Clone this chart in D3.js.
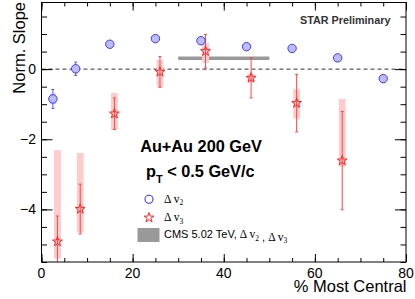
<!DOCTYPE html>
<html>
<head>
<meta charset="utf-8">
<script src="https://cdn.jsdelivr.net/npm/d3@7"></script>
<style>
body { margin: 0; background: #fff; }
text { font-family: "Liberation Sans", Arial, sans-serif; }
</style>
</head>
<body>
<script>
// centrality bins (% most central)
var cent2 = [2.5, 7.5, 15, 25, 35, 45, 55, 65, 75];
var v2 = [-0.85, 0.01, 0.71, 0.87, 0.81, 0.64, 0.59, 0.32, -0.27];
var v2Err = [0.27, 0.19, 0.05, 0.05, 0.05, 0.05, 0.05, 0.05, 0.1];
var v2Sys = [0.15, 0.05, 0.03, 0.03, 0.03, 0.03, 0.03, 0.03, 0.05];

var cent3 = [3.5, 8.5, 16, 26, 36, 46, 56, 66];
var v3 = [-4.92, -3.99, -1.27, -0.08, 0.51, -0.25, -0.97, -2.61];
var v3Err = [0.73, 0.71, 0.45, 0.44, 0.48, 0.57, 0.82, 1.40];
var v3SysLo = [-5.41, -4.66, -1.73, -0.51, 0.18, -0.38, -1.41, -2.78];
var v3SysHi = [-2.31, -2.39, -0.68, 0.26, 0.75, -0.13, -0.57, -0.85];

// CMS 5.02 TeV band
var cmsRange = [30, 50];
var cmsBand = [0.26, 0.36];

var xTicks = [0, 20, 40, 60, 80];
var yTicks = [-4, -2, 0];

var width = 415, height = 299;
var padL = 41.5, padR = 406, padT = 2.5, padB = 262;

var x = d3.scaleLinear().domain([0, 80]).range([padL, padR]);
var y = d3.scaleLinear().domain([-5.5, 1.9]).range([padB, padT]);

var svg = d3.select("body").append("svg")
    .attr("width", width)
    .attr("height", height);

svg.append("defs").append("clipPath").attr("id", "plotclip")
  .append("rect")
    .attr("x", padL).attr("y", padT)
    .attr("width", padR - padL).attr("height", padB - padT);

var plot = svg.append("g").attr("clip-path", "url(#plotclip)");

// zero line
plot.append("line")
    .attr("x1", padL).attr("x2", padR)
    .attr("y1", y(0)).attr("y2", y(0))
    .attr("stroke", "#333")
    .attr("stroke-dasharray", "4,3");

// CMS band
plot.append("rect")
    .attr("x", x(cmsRange[0]))
    .attr("width", x(cmsRange[1]) - x(cmsRange[0]))
    .attr("y", y(cmsBand[1]))
    .attr("height", y(cmsBand[0]) - y(cmsBand[1]))
    .attr("fill", "#999");

// v3 systematic boxes
plot.selectAll(".sys3")
    .data(cent3)
  .enter().append("rect")
    .attr("class", "sys3")
    .attr("x", function(d) { return x(d - 0.75); })
    .attr("width", function(d) { return x(d + 0.75) - x(d - 0.75); })
    .attr("y", function(d, i) { return y(v3SysHi[i]); })
    .attr("height", function(d, i) { return y(v3SysLo[i]) - y(v3SysHi[i]); })
    .attr("fill", "#ffcccc");

// v2 systematic boxes
plot.selectAll(".sys2")
    .data(cent2)
  .enter().append("rect")
    .attr("class", "sys2")
    .attr("x", function(d) { return x(d - 0.7); })
    .attr("width", function(d) { return x(d + 0.7) - x(d - 0.7); })
    .attr("y", function(d, i) { return y(v2[i] + v2Sys[i]); })
    .attr("height", function(d, i) { return y(v2[i] - v2Sys[i]) - y(v2[i] + v2Sys[i]); })
    .attr("fill", "#ccccff");

function errBars(cls, xs, vals, errs, color) {
  var g = plot.selectAll("." + cls)
      .data(xs)
    .enter().append("g")
      .attr("class", cls)
      .attr("stroke", color)
      .attr("stroke-width", 1);
  g.append("line")
      .attr("x1", function(d) { return x(d); })
      .attr("x2", function(d) { return x(d); })
      .attr("y1", function(d, i) { return y(vals[i] + errs[i]); })
      .attr("y2", function(d, i) { return y(vals[i] - errs[i]); });
  [1, -1].forEach(function(s) {
    g.append("line")
        .attr("x1", function(d) { return x(d) - 1.5; })
        .attr("x2", function(d) { return x(d) + 1.5; })
        .attr("y1", function(d, i) { return y(vals[i] + s * errs[i]); })
        .attr("y2", function(d, i) { return y(vals[i] + s * errs[i]); });
  });
}

errBars("err2", cent2, v2, v2Err, "#5555ff");
errBars("err3", cent3, v3, v3Err, "#ff4444");

var star = d3.symbol().type(d3.symbolStar).size(30);

plot.selectAll(".pt2")
    .data(cent2)
  .enter().append("circle")
    .attr("class", "pt2")
    .attr("cx", function(d) { return x(d); })
    .attr("cy", function(d, i) { return y(v2[i]); })
    .attr("r", 4.2)
    .attr("fill", "#bcbcff")
    .attr("stroke", "#3a3aff")
    .attr("stroke-width", 1);

plot.selectAll(".pt3")
    .data(cent3)
  .enter().append("path")
    .attr("class", "pt3")
    .attr("d", star)
    .attr("transform", function(d, i) { return "translate(" + x(d) + "," + y(v3[i]) + ")"; })
    .attr("fill", "none")
    .attr("stroke", "#ff2222")
    .attr("stroke-width", 1);

// frame and ticks
svg.append("rect")
    .attr("x", padL).attr("y", padT)
    .attr("width", padR - padL).attr("height", padB - padT)
    .attr("fill", "none")
    .attr("stroke", "#000")
    .attr("stroke-width", 1);

var xMinor = d3.range(0, 81, 5);
var yMinor = d3.range(-5.5, 1.91, 0.5);

function tickAxis(axis, pos, values, size) {
  svg.append("g")
      .attr("transform", pos)
      .call(axis.tickValues(values).tickSize(size).tickFormat(""))
      .call(function(g) { g.select(".domain").remove(); })
      .selectAll("line").attr("stroke", "#000");
}

tickAxis(d3.axisBottom(x), "translate(0," + padB + ")", xMinor, -4);
tickAxis(d3.axisBottom(x), "translate(0," + padB + ")", xTicks, -8);
tickAxis(d3.axisTop(x), "translate(0," + padT + ")", xMinor, -4);
tickAxis(d3.axisTop(x), "translate(0," + padT + ")", xTicks, -8);
tickAxis(d3.axisLeft(y), "translate(" + padL + ",0)", yMinor, -5.5);
tickAxis(d3.axisLeft(y), "translate(" + padL + ",0)", yTicks, -11);
tickAxis(d3.axisRight(y), "translate(" + padR + ",0)", yMinor, -5.5);
tickAxis(d3.axisRight(y), "translate(" + padR + ",0)", yTicks, -11);

// tick labels
svg.selectAll(".xlab")
    .data(xTicks)
  .enter().append("text")
    .attr("class", "xlab")
    .attr("x", function(d) { return x(d); })
    .attr("y", 277.5)
    .attr("text-anchor", "middle")
    .attr("font-size", 14)
    .text(function(d) { return d; });

svg.selectAll(".ylab")
    .data(yTicks)
  .enter().append("text")
    .attr("class", "ylab")
    .attr("x", 36)
    .attr("y", function(d) { return y(d) + 5; })
    .attr("text-anchor", "end")
    .attr("font-size", 14)
    .text(function(d) { return d < 0 ? "\u2212" + (-d) : d; });

// axis titles
svg.append("text")
    .attr("x", 406.5)
    .attr("y", 291.5)
    .attr("text-anchor", "end")
    .attr("font-size", 16.5)
    .text("% Most Central");

svg.append("text")
    .attr("transform", "translate(25,2) rotate(-90)")
    .attr("text-anchor", "end")
    .attr("font-size", 16.5)
    .text("Norm. Slope");

svg.append("text")
    .attr("x", 300)
    .attr("y", 24.3)
    .attr("font-size", 10.8)
    .attr("font-weight", "bold")
    .attr("fill", "#333")
    .text("STAR Preliminary");

svg.append("text")
    .attr("x", 201)
    .attr("y", 151.5)
    .attr("text-anchor", "middle")
    .attr("font-size", 16.3)
    .attr("font-weight", "bold")
    .text("Au+Au 200 GeV");

var pt = svg.append("text")
    .attr("x", 146)
    .attr("y", 177)
    .attr("font-size", 16.3)
    .attr("font-weight", "bold");
pt.append("tspan").text("p");
pt.append("tspan").attr("font-size", 11).attr("dy", 6).text("T");
pt.append("tspan").attr("dy", -6).text(" < 0.5 GeV/c");

// legend
var leg = svg.append("g");
leg.append("circle")
    .attr("cx", 149).attr("cy", 199.3).attr("r", 4)
    .attr("fill", "none").attr("stroke", "#3a3aff").attr("stroke-width", 1.1);
leg.append("path")
    .attr("d", star)
    .attr("transform", "translate(149,217.7)")
    .attr("fill", "none").attr("stroke", "#ff2222");
leg.append("rect")
    .attr("x", 137.5).attr("y", 228)
    .attr("width", 22).attr("height", 14)
    .attr("fill", "#999");

function deltaV(t, sub) {
  t.append("tspan").attr("font-family", "Liberation Serif, serif").attr("font-size", 11.5).text("\u0394 v");
  t.append("tspan").attr("font-family", "Liberation Serif, serif").attr("font-size", 7.5).attr("dy", 2.5).text(sub);
  t.append("tspan").attr("dy", -2.5).text("");
}
deltaV(leg.append("text").attr("x", 164).attr("y", 202.5), "2");
deltaV(leg.append("text").attr("x", 164).attr("y", 221), "3");

var cms = leg.append("text")
    .attr("x", 164).attr("y", 238.3)
    .attr("font-size", 11);
cms.append("tspan").text("CMS 5.02 TeV, ");
deltaV(cms, "2");
cms.append("tspan").text(" , ");
deltaV(cms, "3");
</script>
</body>
</html>
